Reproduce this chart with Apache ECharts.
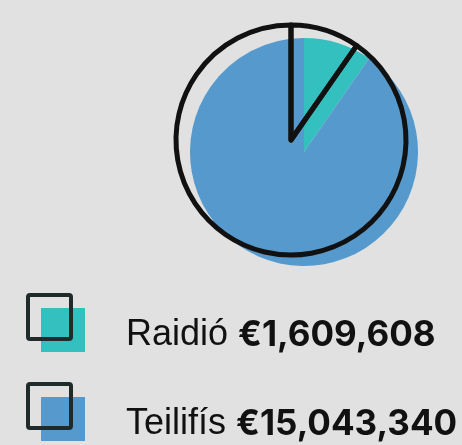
<!DOCTYPE html>
<html><head><meta charset="utf-8">
<script src="https://cdn.jsdelivr.net/npm/echarts@6/dist/echarts.min.js"></script>
<style>html,body{margin:0;padding:0;background:#e0e1e0;}#c{width:462px;height:445px;}</style>
</head><body><div id="c"></div>
<script>
const categories = ['Raidió', 'Teilifís'];
const values = [1609608, 15043340];
const colors = ['#35c0c0', '#5699cc'];

const chart = echarts.init(document.getElementById('c'));
const data = categories.map((c, i) => ({ name: c, value: values[i], itemStyle: { color: colors[i] } }));
const fmt = v => '€' + v.toLocaleString('en-US');

const graphic = [];
categories.forEach((c, i) => {
  const y0 = 293 + i * 89;
  graphic.push({ type: 'rect', shape: { x: 41, y: y0 + 15, width: 44, height: 44 }, style: { fill: colors[i] } });
  graphic.push({ type: 'rect', shape: { x: 28, y: y0 + 2, width: 43, height: 44, r: 2 }, style: { fill: 'none', stroke: '#1f2a2a', lineWidth: 4 } });
  graphic.push({ type: 'text', x: 126, y: y0 + 60, style: {
    text: '{a|' + c + ' }{b|' + fmt(values[i]) + '}',
    verticalAlign: 'bottom',
    rich: {
      a: { fontFamily: 'Liberation Sans', fontSize: 36, fill: '#111', fontWeight: 'normal' },
      b: { fontFamily: 'Inter', fontSize: 35, fill: '#111', fontWeight: 'bold' }
    }
  }});
});

chart.setOption({
  backgroundColor: '#e0e1e0',
  animation: false,
  series: [
    { type: 'pie', center: [304, 152], radius: 114, startAngle: 90, clockwise: true,
      label: { show: false }, labelLine: { show: false }, silent: true, data: data },
    { type: 'pie', center: [291, 140], radius: 115, startAngle: 90, clockwise: true,
      label: { show: false }, labelLine: { show: false }, silent: true,
      itemStyle: { color: 'rgba(0,0,0,0)', borderColor: '#111', borderWidth: 5, borderJoin: 'round' },
      data: categories.map((c, i) => ({ name: c, value: values[i] })) }
  ],
  graphic: graphic
});
</script></body></html>
